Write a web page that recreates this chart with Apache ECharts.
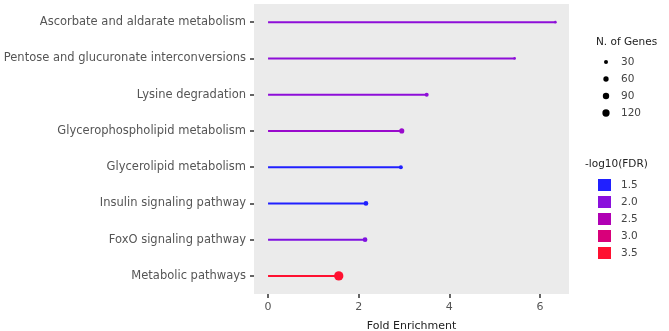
<!DOCTYPE html>
<html>
<head>
<meta charset="utf-8">
<script src="https://cdn.jsdelivr.net/npm/echarts@6/dist/echarts.min.js"></script>
<style>
  html, body { margin: 0; padding: 0; background: #fff; }
  #chart { width: 669px; height: 331px; }
</style>
</head>
<body>
<div id="chart"></div>
<script>
// pathways, bottom to top (category axis starts at bottom)
const pathways = [
  'Metabolic pathways',
  'FoxO signaling pathway',
  'Insulin signaling pathway',
  'Glycerolipid metabolism',
  'Glycerophospholipid metabolism',
  'Lysine degradation',
  'Pentose and glucuronate interconversions',
  'Ascorbate and aldarate metabolism'
]
const foldEnrichment = [1.56, 2.14, 2.16, 2.93, 2.95, 3.50, 5.44, 6.34]
const nGenes = [200, 45, 45, 30, 55, 30, 8, 8]
const log10FDR = [3.55, 1.95, 1.5, 1.5, 2.2, 2.05, 2.05, 2.05]
const xTicks = [0, 2, 4, 6]

const sizeBreaks = [30, 60, 90, 120]
const fdrBreaks = [1.5, 2.0, 2.5, 3.0, 3.5]
const fdrColors = ['#2020ff', '#8a10dc', '#b000b4', '#d8007a', '#ff1030']

function hexToRgb (h) {
  return [1, 3, 5].map(i => parseInt(h.slice(i, i + 2), 16))
}
function fdrColor (v) {
  // linear blend between the legend steps
  if (v <= fdrBreaks[0]) return fdrColors[0]
  if (v >= fdrBreaks[fdrBreaks.length - 1]) return fdrColors[fdrColors.length - 1]
  let i = 0
  while (v > fdrBreaks[i + 1]) i++
  let t = (v - fdrBreaks[i]) / (fdrBreaks[i + 1] - fdrBreaks[i])
  let a = hexToRgb(fdrColors[i]), b = hexToRgb(fdrColors[i + 1])
  let c = a.map((x, k) => Math.round(x + (b[k] - x) * t))
  return 'rgb(' + c.join(',') + ')'
}
function dotSize (n) {
  return Math.sqrt(3.7 + 0.41 * n)
}

const textColor = '#555'
const font = 'DejaVu Sans'

let myChart = echarts.init(document.getElementById('chart'))

// legend pieces (graphic)
let graphics = []
graphics.push({ type: 'text', left: 596, top: 37, style: { text: 'N. of Genes', fill: '#222', font: '10.5px "DejaVu Sans"' } })
sizeBreaks.forEach((n, i) => {
  let cy = 62 + i * 17
  let d = dotSize(n)
  graphics.push({ type: 'circle', shape: { cx: 606, cy: cy, r: d / 2 }, style: { fill: '#000' } })
  graphics.push({ type: 'text', x: 621, y: cy, style: { text: String(n), fill: '#444', font: '10.5px "DejaVu Sans"', verticalAlign: 'middle' } })
})
graphics.push({ type: 'text', left: 585, top: 159, style: { text: '-log10(FDR)', fill: '#222', font: '10.5px "DejaVu Sans"' } })
fdrBreaks.forEach((b, i) => {
  let cy = 185 + i * 17
  graphics.push({ type: 'rect', shape: { x: 598, y: cy - 6, width: 13, height: 12 }, style: { fill: fdrColors[i] } })
  graphics.push({ type: 'text', x: 621, y: cy, style: { text: b.toFixed(1), fill: '#444', font: '10.5px "DejaVu Sans"', verticalAlign: 'middle' } })
})

var option = {
  animation: false,
  backgroundColor: '#fff',
  grid: {
    left: 254,
    right: 100,
    top: 4,
    bottom: 37,
    show: true,
    backgroundColor: '#ebebeb',
    borderWidth: 0,
    containLabel: false,
    outerBoundsMode: 'none'
  },
  xAxis: {
    type: 'value',
    min: -0.31,
    max: 6.64,
    name: 'Fold Enrichment',
    nameLocation: 'middle',
    nameGap: 27,
    nameTextStyle: { color: '#222', fontSize: 11, fontFamily: font },
    axisLine: { show: false, onZero: false },
    splitLine: { show: false },
    axisLabel: {
      color: textColor, fontSize: 11, fontFamily: font, margin: 8,
      customValues: xTicks
    },
    axisTick: { show: true, length: 4, lineStyle: { color: '#333', width: 1.5 }, customValues: xTicks }
  },
  yAxis: {
    type: 'category',
    data: pathways,
    axisLine: { show: false, onZero: false },
    splitLine: { show: false },
    axisTick: { show: true, length: 4, alignWithLabel: true, lineStyle: { color: '#333', width: 1.5 } },
    axisLabel: { color: textColor, fontSize: 11.5, fontFamily: font, margin: 8 }
  },
  graphic: graphics,
  series: [
    {
      type: 'bar',
      barWidth: 2,
      data: foldEnrichment.map((v, i) => ({ value: v, itemStyle: { color: fdrColor(log10FDR[i]) } }))
    },
    {
      type: 'scatter',
      data: foldEnrichment.map((v, i) => ({
        value: [v, pathways[i]],
        symbolSize: dotSize(nGenes[i]),
        itemStyle: { color: fdrColor(log10FDR[i]), opacity: 1 }
      }))
    }
  ]
}

myChart.setOption(option, true)
</script>
</body>
</html>
